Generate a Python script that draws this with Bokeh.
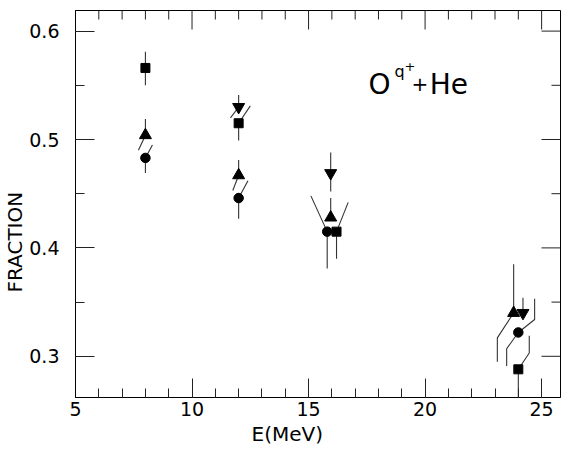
from bokeh.plotting import figure
from bokeh.models import Range1d, FixedTicker, Title
from bokeh.core.properties import value
from bokeh.embed import file_html
from bokeh.resources import INLINE

# ---------------- data ----------------
x_ticks = [5, 10, 15, 20, 25]
x_minor = list(range(5, 26))
y_ticks = [0.3, 0.4, 0.5, 0.6]
y_minor = [0.3, 0.35, 0.4, 0.45, 0.5, 0.55, 0.6]

# squares
sq_E = [8.0, 12.0, 16.2, 24.0]
sq_F = [0.566, 0.515, 0.415, 0.288]
sq_hi = [0.581, 0.531, 0.442, 0.319]
sq_lo = [0.550, 0.499, 0.390, 0.250]
# circles
ci_E = [8.0, 12.0, 15.8, 24.0]
ci_F = [0.483, 0.446, 0.415, 0.322]
ci_hi = [0.495, 0.462, 0.448, 0.353]
ci_lo = [0.469, 0.427, 0.381, 0.291]
# upward triangles
tu_E = [8.0, 12.0, 15.95, 23.8]
tu_F = [0.504, 0.467, 0.428, 0.340]
tu_hi = [0.519, 0.481, 0.446, 0.385]
tu_lo = [0.490, 0.453, None, 0.295]
# downward triangles
td_E = [12.0, 15.95, 24.2]
td_F = [0.530, 0.469, 0.340]
td_hi = [0.541, 0.488, 0.354]
td_lo = [0.520, 0.452, None]

# ---------------- drawing style of the displaced error bars ----------------
# (horizontal displacement at the kink, slanted rise before going vertical)
sq_hi_dx, sq_hi_rise = [0, 0.5, 0.5, 0.47], [None, None, None, 0.015]
sq_lo_dx, sq_lo_rise = [0, 0, 0, 0], [None] * 4
ci_hi_dx, ci_hi_rise = [0.3, 0.4, -0.7, 0.7], [None, None, None, 0.012]
ci_lo_dx, ci_lo_rise = [0, 0, 0, -0.5], [None, None, None, 0.015]
tu_hi_dx, tu_hi_rise = [0, 0, 0, 0], [None] * 4
tu_lo_dx, tu_lo_rise = [-0.3, -0.25, 0, -0.7], [None, None, None, 0.023]
td_hi_dx, td_hi_rise = [0, 0, 0], [None] * 3
td_lo_dx, td_lo_rise = [-0.35, 0, 0], [None] * 3


def bar(E, F, end, dx, rise):
    if end is None:
        return None
    if dx == 0:
        return [E, E], [F, end]
    if rise is None:
        return [E, E + dx], [F, end]
    k = F + rise if end > F else F - rise
    return [E, E + dx, E + dx], [F, k, end]


xs, ys = [], []
for E_, F_, ends, dxs, rises in [
    (sq_E, sq_F, sq_hi, sq_hi_dx, sq_hi_rise), (sq_E, sq_F, sq_lo, sq_lo_dx, sq_lo_rise),
    (ci_E, ci_F, ci_hi, ci_hi_dx, ci_hi_rise), (ci_E, ci_F, ci_lo, ci_lo_dx, ci_lo_rise),
    (tu_E, tu_F, tu_hi, tu_hi_dx, tu_hi_rise), (tu_E, tu_F, tu_lo, tu_lo_dx, tu_lo_rise),
    (td_E, td_F, td_hi, td_hi_dx, td_hi_rise), (td_E, td_F, td_lo, td_lo_dx, td_lo_rise),
]:
    for E, F, end, dx, rise in zip(E_, F_, ends, dxs, rises):
        b = bar(E, F, end, dx, rise)
        if b:
            xs.append(b[0])
            ys.append(b[1])

FONT = "DejaVu Sans"
X0, X1 = 5.0, 25.81
Y0, Y1 = 0.262, 0.619
FW, FH = 485, 387
MAJ, MIN = 19, 9

p = figure(frame_width=FW, frame_height=FH, output_backend="svg", toolbar_location=None,
           x_range=Range1d(X0, X1), y_range=Range1d(Y0, Y1),
           min_border_left=75, min_border_right=1, min_border_top=10, min_border_bottom=51)
p.background_fill_color = "white"
p.border_fill_color = "white"
p.outline_line_color = "black"
p.outline_line_width = 1
p.xgrid.visible = False
p.ygrid.visible = False


def style_axis(ax, ticker):
    ax.ticker = ticker
    ax.major_tick_in = MAJ
    ax.major_tick_out = 0
    ax.minor_tick_in = MIN
    ax.minor_tick_out = 0
    ax.axis_line_color = "black"
    ax.major_tick_line_color = "#222222"
    ax.minor_tick_line_color = "#222222"
    ax.major_label_text_font = FONT
    ax.major_label_text_font_size = "19px"
    ax.major_label_text_color = "black"


style_axis(p.xaxis[0], FixedTicker(ticks=x_ticks, minor_ticks=x_minor))
style_axis(p.yaxis[0], FixedTicker(ticks=y_ticks, minor_ticks=y_minor))
p.xaxis[0].major_label_standoff = 4
p.yaxis[0].major_label_standoff = 16
p.yaxis[0].formatter.use_scientific = False

# axis titles, placed off-centre as in the reference
p.add_layout(Title(text="FRACTION", align="left", offset=105, standoff=0,
                   text_font=FONT, text_font_size="20px", text_font_style="normal",
                   text_color="black"), "left")
p.add_layout(Title(text="E(MeV)", align="left", offset=176, standoff=2,
                   text_font=FONT, text_font_size="20px", text_font_style="normal",
                   text_color="black"), "below")

# mirrored inward ticks on the top and right edges (derived from the tick lists)
dy_px = (Y1 - Y0) / FH
dx_px = (X1 - X0) / FW
tx0, ty0, tx1, ty1 = [], [], [], []
for t in x_minor:
    L = MAJ if t in x_ticks else MIN
    tx0.append(t); tx1.append(t); ty0.append(Y1); ty1.append(Y1 - L * dy_px)
for t in y_minor:
    L = MAJ if any(abs(t - m) < 1e-9 for m in y_ticks) else MIN
    tx0.append(X1); tx1.append(X1 - L * dx_px); ty0.append(t); ty1.append(t)
p.segment(x0=tx0, y0=ty0, x1=tx1, y1=ty1, line_color="#222222", line_width=1)

# error bars
p.multi_line(xs=xs, ys=ys, line_color="#333333", line_width=1.1)

# markers
p.scatter(sq_E, sq_F, marker="square", size=9, color="black")
p.scatter(ci_E, ci_F, marker="circle", size=9.5, color="black")
p.scatter(tu_E, tu_F, marker="triangle", size=12, color="black")
p.scatter(td_E, td_F, marker="inverted_triangle", size=12, color="black")

# annotation  O^{q+} + He
p.text(x=[17.57], y=[0.551], text=["O"], text_font=value(FONT), text_font_size="28px",
       text_color="black", text_baseline="alphabetic", text_align="left")
p.text(x=[18.69], y=[0.563], text=["q"], text_font=value(FONT), text_font_size="16px",
       text_color="black", text_baseline="alphabetic", text_align="left")
p.text(x=[19.12], y=[0.567], text=["+"], text_font=value(FONT), text_font_size="13px",
       text_color="black", text_baseline="alphabetic", text_align="left")
p.text(x=[19.42], y=[0.551], text=["+"], text_font=value(FONT), text_font_size="20px",
       text_color="black", text_baseline="alphabetic", text_align="left")
p.text(x=[20.2], y=[0.551], text=["He"], text_font=value(FONT), text_font_size="28px",
       text_color="black", text_baseline="alphabetic", text_align="left")

open("out.html", "w").write(file_html(p, INLINE))
